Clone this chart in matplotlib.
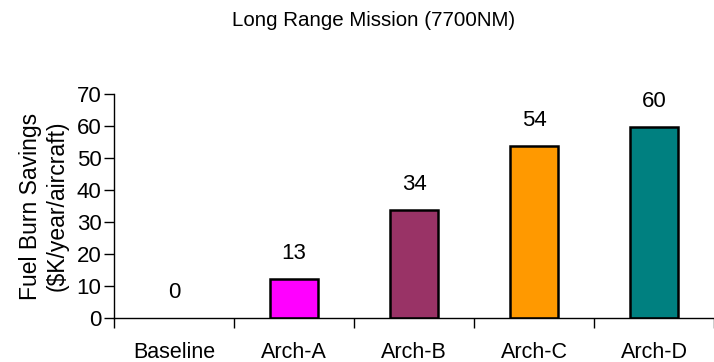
import matplotlib
matplotlib.use("Agg")
import matplotlib.pyplot as plt
import numpy as np

plt.rcParams['font.family'] = ['Liberation Sans', 'DejaVu Sans']

categories = ['Baseline', 'Arch-A', 'Arch-B', 'Arch-C', 'Arch-D']
savings = [0, 12.3, 33.8, 53.8, 59.8]
value_labels = ['0', '13', '34', '54', '60']
bar_colors = ['#FFFFFF', '#FF00FF', '#993366', '#FF9900', '#008080']


def main():
    W, H = 714, 362
    fig = plt.figure(figsize=(W / 100, H / 100), dpi=100)
    ax = fig.add_axes([114 / W, (H - 318) / H, 1 - 114 / W, 224 / H])

    x = np.arange(len(categories))
    for i in range(len(categories)):
        if savings[i] > 0:
            ax.bar(x[i], savings[i], width=0.4, color=bar_colors[i],
                   edgecolor='black', linewidth=1.8, zorder=2)
        ax.text(x[i], savings[i] + 8, value_labels[i], ha='center',
                va='center', fontsize=16)

    ax.set_xlim(-0.5, -0.5 + 600 / 122)
    ax.set_ylim(0, 70)
    ax.set_yticks(range(0, 71, 10))
    ax.set_xticks(x)
    ax.set_xticklabels(categories)
    ax.set_xticks(np.arange(-0.5, 5, 1), minor=True)
    ax.tick_params(axis='x', which='major', length=0, pad=17, labelsize=15.5)
    ax.tick_params(axis='x', which='minor', length=7, width=1, direction='out')
    ax.tick_params(axis='y', length=7, width=1, pad=2, labelsize=16)

    for s in ['top', 'right']:
        ax.spines[s].set_visible(False)
    ax.spines['left'].set_linewidth(1)
    ax.spines['bottom'].set_linewidth(1)

    ax.set_ylabel('Fuel Burn Savings\n($K/year/aircraft)', fontsize=16.5,
                  linespacing=1.2, labelpad=6)
    fig.text(374 / W, 1 - 20 / H, 'Long Range Mission (7700NM)',
             ha='center', va='center', fontsize=14.8)

    fig.savefig('out.png', dpi=100)


if __name__ == '__main__':
    main()
